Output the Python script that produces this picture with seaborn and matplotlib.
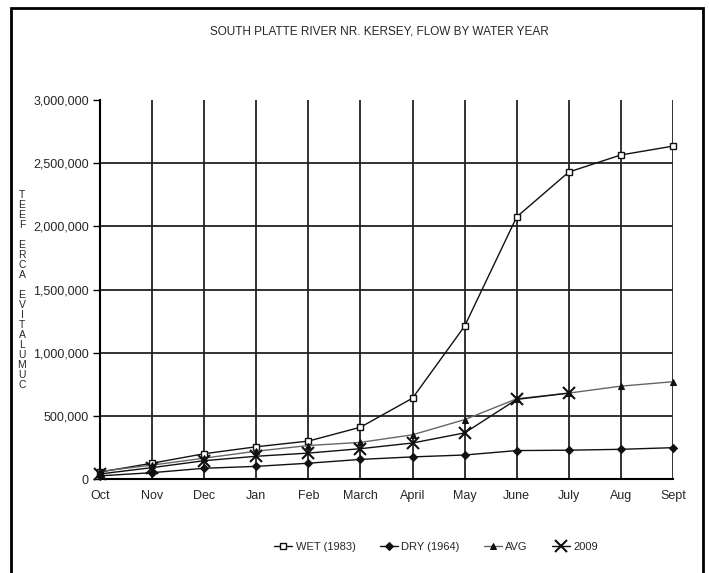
import numpy as np
import pandas as pd
import matplotlib
matplotlib.use("Agg")
import matplotlib.pyplot as plt
from matplotlib.patches import Rectangle
import seaborn as sns

months = ["Oct", "Nov", "Dec", "Jan", "Feb", "March", "April", "May", "June", "July", "Aug", "Sept"]
wet_1983 = [55000, 125000, 200000, 255000, 300000, 410000, 640000, 1210000, 2075000, 2430000, 2565000, 2635000]
dry_1964 = [25000, 50000, 85000, 100000, 125000, 155000, 175000, 190000, 225000, 228000, 235000, 248000]
avg = [60000, 110000, 165000, 220000, 265000, 290000, 350000, 470000, 635000, 680000, 735000, 770000]
y2009 = [40000, 90000, 145000, 180000, 205000, 240000, 285000, 365000, 630000, 680000]
series_names = ["WET (1983)", "DRY (1964)", "AVG", "2009"]
yticks = [0, 500000, 1000000, 1500000, 2000000, 2500000, 3000000]
title = "SOUTH PLATTE RIVER NR. KERSEY, FLOW BY WATER YEAR"
ylabel = "CUMULATIVE ACRE FEET"

sns.set_theme(style="white")
plt.rcParams["font.family"] = ["Liberation Sans", "DejaVu Sans"]

fig = plt.figure(figsize=(7.09, 5.73), dpi=100)
ax = fig.add_axes([100 / 709, 1 - 479 / 573, (673 - 100) / 709, (479 - 100) / 573])

styles = {
    "WET (1983)": dict(color="#111111", marker="s", markersize=5, markerfacecolor="white",
                       markeredgecolor="#111111", markeredgewidth=1.0),
    "DRY (1964)": dict(color="#111111", marker="D", markersize=4, markerfacecolor="#111111",
                       markeredgecolor="#111111"),
    "AVG": dict(color="#666666", marker="^", markersize=5, markerfacecolor="#111111",
                markeredgecolor="#111111"),
    "2009": dict(color="#111111", marker="x", markersize=8, markeredgewidth=1.5,
                 markeredgecolor="#111111"),
}

for name, vals in zip(series_names, [wet_1983, dry_1964, avg, y2009]):
    d = pd.DataFrame({"idx": np.arange(len(vals)), "flow": vals})
    sns.lineplot(data=d, x="idx", y="flow", ax=ax, label=name, linewidth=1.0, sort=False,
                 clip_on=False, zorder=3, **styles[name])

ax.set_xlim(0, len(months) - 1)
ax.set_ylim(0, 3000000)
ax.set_xticks(range(len(months)))
ax.set_xticklabels(months, fontsize=9)
ax.set_yticks(yticks)
ax.set_yticklabels([f"{v:,}" for v in yticks], fontsize=9)
ax.set_xlabel("")
ax.set_ylabel("")
ax.tick_params(axis="y", which="major", direction="out", length=5, width=1, color="black", pad=3, left=True)
ax.tick_params(axis="x", length=0, pad=8)

ax.grid(True, color="#222222", linewidth=1.3)
ax.set_axisbelow(True)
gl = ax.yaxis.get_gridlines()
gl[-1].set_visible(False)
for s in ["top", "right"]:
    ax.spines[s].set_visible(False)
for s in ["left", "bottom"]:
    ax.spines[s].set_color("black")
    ax.spines[s].set_linewidth(1.5)

fig.text(0.535, 1 - 32 / 573, title, ha="center", va="center", fontsize=8.5)

# stacked y label
fig.text(22 / 709, 1 - 290 / 573, "\n".join(list(ylabel[::-1])), ha="center", va="center",
         fontsize=7.5, linespacing=1.0)

sns.move_legend(ax, "center", bbox_to_anchor=(0.615, 1 - 547 / 573), bbox_transform=fig.transFigure,
                ncol=4, frameon=False, title=None, fontsize=8, columnspacing=2.2, handlelength=1.6,
                handletextpad=0.3)

fig.add_artist(Rectangle((11 / 709, -0.02), (703 - 11) / 709, 1 - 8 / 573 + 0.02,
                         transform=fig.transFigure, fill=False, edgecolor="black", linewidth=2))

fig.savefig("out.png", dpi=100)
